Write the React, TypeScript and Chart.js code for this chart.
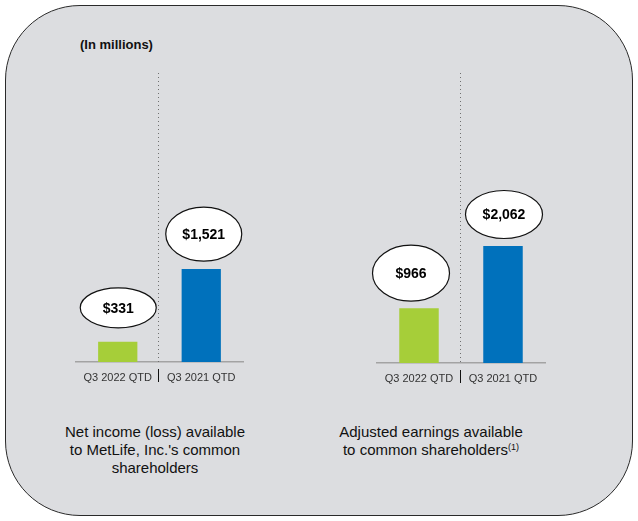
import React, { useEffect, useRef } from "react";
import { Chart, registerables } from "chart.js";

Chart.register(...registerables);

const categories = ["Q3 2022 QTD", "Q3 2021 QTD"];
const netIncomeValues = [331, 1521];
const adjustedEarningsValues = [966, 2062];
const netIncomeLabels = ["$331", "$1,521"];
const adjustedEarningsLabels = ["$966", "$2,062"];
const barColors = ["#a6ce39", "#0071bc"];

const FONT = "'Liberation Sans', Arial, sans-serif";

type Bubble = { dx: number; gap: number; rx: number; ry: number };

const leftBubbles: Bubble[] = [
  { dx: 0.5, gap: 14, rx: 38, ry: 20 },
  { dx: 2.5, gap: 8, rx: 38, ry: 27 },
];
const rightBubbles: Bubble[] = [
  { dx: -8, gap: 7, rx: 38.5, ry: 28 },
  { dx: 1, gap: 7.5, rx: 38.5, ry: 24 },
];

function MiniBar(props: {
  values: number[];
  labels: string[];
  bubbles: Bubble[];
  max: number;
  style: React.CSSProperties;
  width: number;
  height: number;
}) {
  const ref = useRef<HTMLCanvasElement | null>(null);
  useEffect(() => {
    if (!ref.current) return;
    const decor = {
      id: "decor",
      afterDatasetsDraw(chart: any) {
        const ctx = chart.ctx;
        const area = chart.chartArea;
        const xs = chart.scales.x;
        const sepX = (xs.getPixelForValue(0) + xs.getPixelForValue(1)) / 2 - 1.5;
        ctx.save();
        ctx.strokeStyle = "#707070";
        ctx.lineWidth = 1;
        ctx.setLineDash([1, 3]);
        ctx.beginPath();
        ctx.moveTo(Math.round(sepX) + 0.5, area.top);
        ctx.lineTo(Math.round(sepX) + 0.5, area.bottom);
        ctx.stroke();
        ctx.setLineDash([]);
        ctx.strokeStyle = "#111";
        ctx.beginPath();
        ctx.moveTo(Math.round(sepX) + 0.5, area.bottom + 7);
        ctx.lineTo(Math.round(sepX) + 0.5, area.bottom + 20);
        ctx.stroke();
        const meta = chart.getDatasetMeta(0);
        meta.data.forEach((bar: any, i: number) => {
          const b = props.bubbles[i];
          const cx = bar.x + b.dx;
          const cy = bar.y - b.gap - b.ry;
          ctx.beginPath();
          ctx.ellipse(cx, cy, b.rx, b.ry, 0, 0, Math.PI * 2);
          ctx.fillStyle = "#ffffff";
          ctx.fill();
          ctx.strokeStyle = "#111";
          ctx.lineWidth = 1.2;
          ctx.stroke();
          ctx.fillStyle = "#000";
          ctx.font = `bold 14px ${FONT}`;
          ctx.textAlign = "center";
          ctx.textBaseline = "middle";
          ctx.fillText(props.labels[i], cx, cy + 1);
        });
        ctx.restore();
      },
    };
    const chart = new Chart(ref.current, {
      type: "bar",
      data: {
        labels: categories,
        datasets: [
          {
            data: props.values,
            backgroundColor: barColors,
            borderWidth: 0,
            barPercentage: 0.47,
            categoryPercentage: 1,
          },
        ],
      },
      options: {
        animation: false,
        responsive: false,
        maintainAspectRatio: false,
        layout: { padding: { top: 10, left: 10, right: 10, bottom: 0 } },
        plugins: { legend: { display: false }, tooltip: { enabled: false } },
        scales: {
          x: {
            grid: { display: false, drawTicks: false },
            border: { display: true, color: "#a3a3a3", width: 1.5 },
            ticks: { font: { family: FONT, size: 11 }, color: "#333", padding: 9 },
            afterFit: (s: any) => {
              s.height = 30;
            },
          },
          y: { display: false, min: 0, max: props.max },
        },
      },
      plugins: [decor],
    });
    return () => chart.destroy();
  }, []);
  return (
    <canvas
      ref={ref}
      width={props.width}
      height={props.height}
      style={{ position: "absolute", width: props.width, height: props.height, ...props.style }}
    />
  );
}

export default function App() {
  return (
    <div style={{ position: "absolute", left: 0, top: 0, width: 638, height: 521, fontFamily: FONT, background: "#ffffff" }}>
      <div
        style={{
          position: "absolute",
          left: 5,
          top: 5,
          width: 628,
          height: 511,
          boxSizing: "border-box",
          border: "1.5px solid #2a2a2a",
          borderRadius: 75,
          background: "#dcdde0",
        }}
      />
      <div style={{ position: "absolute", left: 80, top: 37, fontSize: 13, fontWeight: "bold", lineHeight: "16px", color: "#111" }}>
        (In millions)
      </div>
      <MiniBar
        values={netIncomeValues}
        labels={netIncomeLabels}
        bubbles={leftBubbles}
        max={4730}
        width={187}
        height={329}
        style={{ left: 66, top: 63 }}
      />
      <MiniBar
        values={adjustedEarningsValues}
        labels={adjustedEarningsLabels}
        bubbles={rightBubbles}
        max={5111}
        width={188}
        height={330}
        style={{ left: 367, top: 63 }}
      />
      <div style={{ position: "absolute", left: 45, top: 423, width: 220, textAlign: "center", fontSize: 15, lineHeight: "18px", color: "#111" }}>
        Net income (loss) available
        <br />
        to MetLife, Inc.'s common
        <br />
        shareholders
      </div>
      <div style={{ position: "absolute", left: 321, top: 423, width: 220, textAlign: "center", fontSize: 15, lineHeight: "18px", color: "#111" }}>
        Adjusted earnings available
        <br />
        to common shareholders
        <span style={{ fontSize: 9, verticalAlign: "top", lineHeight: "12px" }}>(1)</span>
      </div>
    </div>
  );
}
